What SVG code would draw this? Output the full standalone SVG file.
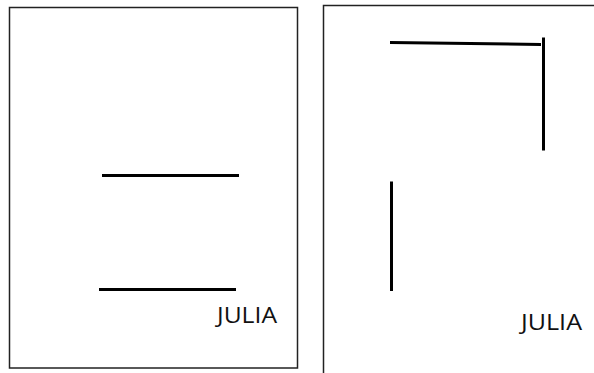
<svg xmlns="http://www.w3.org/2000/svg" width="594" height="373" viewBox="0 0 594 373">
<style>
.frame{fill:#fff;stroke:#222;stroke-width:1.5}
.ln{stroke:#000;stroke-width:3;fill:none}
.lbl{font-family:"Open Sans","Liberation Sans",sans-serif;font-size:21px;fill:#111}
</style>
<rect width="594" height="373" fill="#fff"/>
<g id="panel-left">
<rect class="frame" x="9.5" y="7.5" width="288" height="360.5"/>
<line class="ln" x1="102" y1="175.5" x2="239" y2="175.5"/>
<line class="ln" x1="99" y1="289.5" x2="236" y2="289.5"/>
<text class="lbl" x="217" y="323" textLength="60" lengthAdjust="spacingAndGlyphs">JULIA</text>
</g>
<g id="panel-right">
<rect class="frame" x="323.5" y="5.5" width="290" height="380"/>
<line class="ln" x1="390" y1="42.5" x2="541" y2="44.5"/>
<line class="ln" x1="543.5" y1="37.5" x2="543.5" y2="150.5"/>
<line class="ln" x1="391.5" y1="181.5" x2="391.5" y2="291"/>
<text class="lbl" x="521" y="330" textLength="61" lengthAdjust="spacingAndGlyphs">JULIA</text>
</g>
</svg>
